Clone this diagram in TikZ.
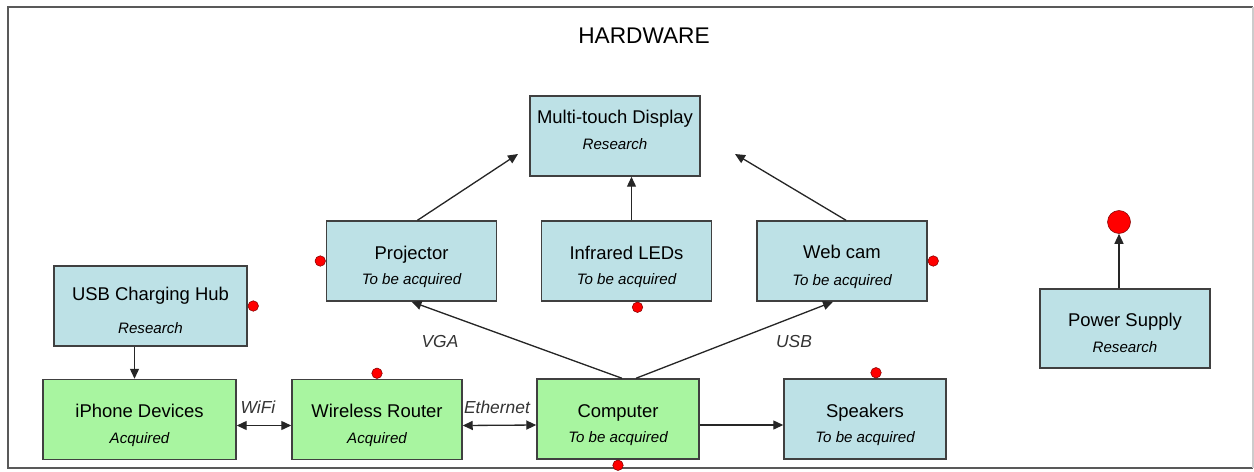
\documentclass[tikz,border=0pt]{standalone}
\usepackage{fontspec}
\setmainfont{Liberation Sans}
\usetikzlibrary{%
	calc,%
	arrows.meta
}
\definecolor{hwblue}{RGB}{189,225,230}
\definecolor{hwgreen}{RGB}{168,245,160}
\definecolor{hwline}{RGB}{64,64,64}
\newcommand{\status}[1]{{\fontsize{8.6}{10}\selectfont\itshape #1}}
\newcommand{\hwtop}{\rule{0pt}{12.5pt}}

\begin{document}
\begin{tikzpicture}[x=0.02cm,y=-0.02cm,
			>={Triangle[length=2mm,width=1.8mm]},
			hwbox/.style={draw=hwline,line width=0.85pt,minimum width=3.4cm,minimum height=1.6cm,
				align=center,inner sep=0pt,text depth=0pt,font=\fontsize{10.5}{14.7}\selectfont},
			todo/.style={hwbox,fill=hwblue},
			done/.style={hwbox,fill=hwgreen},
			link/.style={line width=0.75pt,draw=black!85},
			lbl/.style={font=\fontsize{9.9}{12}\selectfont\itshape,text=black!80},
			reddot/.style={circle,fill=red,draw=red!50!black,line width=0.3pt,inner sep=0pt,minimum size=0.21cm}
		]
			% Frame and title
			\useasboundingbox (0,0) rectangle (1254,471);
			\draw[black!65,line width=1.1pt] (1253,7) -- (8,7) -- (8,468) -- (1253,468);
			\draw[black!20,line width=0.6pt] (1253,7) -- (1253,468);
			\node[font=\fontsize{12.9}{15}\selectfont] (title) at (644,36) {HARDWARE};
			
			% Boxes
			\node[todo,text depth=12pt] (display) at (615,136) {\hwtop Multi-touch Display\\\status{Research}};
			\node[todo] (projector) at (411.5,261) {\hwtop Projector\\\status{To be acquired}};
			\node[todo] (irleds) at (626.5,261) {\hwtop Infrared LEDs\\\status{To be acquired}};
			\node[todo] (webcam) at (842,261) {\hwtop Web cam\\[1pt]\status{To be acquired}};
			\node[todo,minimum width=3.86cm] (usbhub) at (150.5,306) {\hwtop USB Charging Hub\\[4pt]\status{Research}};
			\node[done,minimum width=3.86cm] (iphone) at (139.5,419.5) {\hwtop iPhone Devices\\\status{Acquired}};
			\node[done] (router) at (377,419.5) {\hwtop Wireless Router\\\status{Acquired}};
			\node[done,minimum width=3.24cm] (computer) at (618,419) {\hwtop Computer\\\status{To be acquired}};
			\node[todo,minimum width=3.24cm] (speakers) at (865,419) {\hwtop Speakers\\\status{To be acquired}};
			\node[todo,minimum height=1.58cm] (power) at (1125,328.5) {\hwtop Power Supply\\\status{Research}};
			
			% Red dots
			\node[reddot,anchor=west] (hubdot) at (usbhub.east) {};
			\node[reddot,anchor=east] (projdot) at (projector.west) {};
			\node[reddot,anchor=south] (routerdot) at (router.north) {};
			\node[reddot,anchor=north] (irdot) at ($(irleds.south)+(11,0)$) {};
			\node[reddot,anchor=west] (camdot) at (webcam.east) {};
			\node[reddot,anchor=south] (spkdot) at ($(speakers.north)+(11,0)$) {};
			\node[reddot,anchor=north] (compdot) at (computer.south) {};
			\node[reddot,minimum size=0.46cm] (mains) at (1119,222) {};
			
			% Connectors
			\coordinate (dispL) at (518,154);
			\coordinate (dispR) at (735,154);
			\draw[link,->] ($(projector.north)+(6,0)$) -- (dispL);
			\draw[link,->] ($(irleds.north)+(5,0)$) -- ($(irleds.north |- display.south)+(5,0)$);
			\draw[link,->] ($(webcam.north)+(4,0)$) -- (dispR);
			\draw[link,->] ($(computer.north)+(4,0)$) -- (projector.south);
			\draw[link,->] ($(computer.north)+(18,0)$) -- ($(webcam.south)+(-9,0)$);
			\draw[link,->] ($(usbhub.south)+(-16,0)$) -- ($(usbhub.south |- iphone.north)+(-16,0)$);
			\draw[link,<->] ($(iphone.east)+(0,6)$) -- ($(router.west)+(0,6)$);
			\draw[link,<->] ($(router.east)+(0,6)$) -- ($(computer.west)+(0,6)$);
			\draw[link,->] ($(computer.east)+(0,6)$) -- ($(speakers.west)+(0,6)$);
			\draw[link,->] ($(power.north)+(-6,0)$) -- (mains);
			
			% Connector labels
			\node[lbl] (wifi) at (258,407) {WiFi};
			\node[lbl] (ethernet) at (497,407) {Ethernet};
			\node[lbl] (vga) at (440,342) {VGA};
			\node[lbl] (usb) at (794,342) {USB};
\end{tikzpicture}
\end{document}
